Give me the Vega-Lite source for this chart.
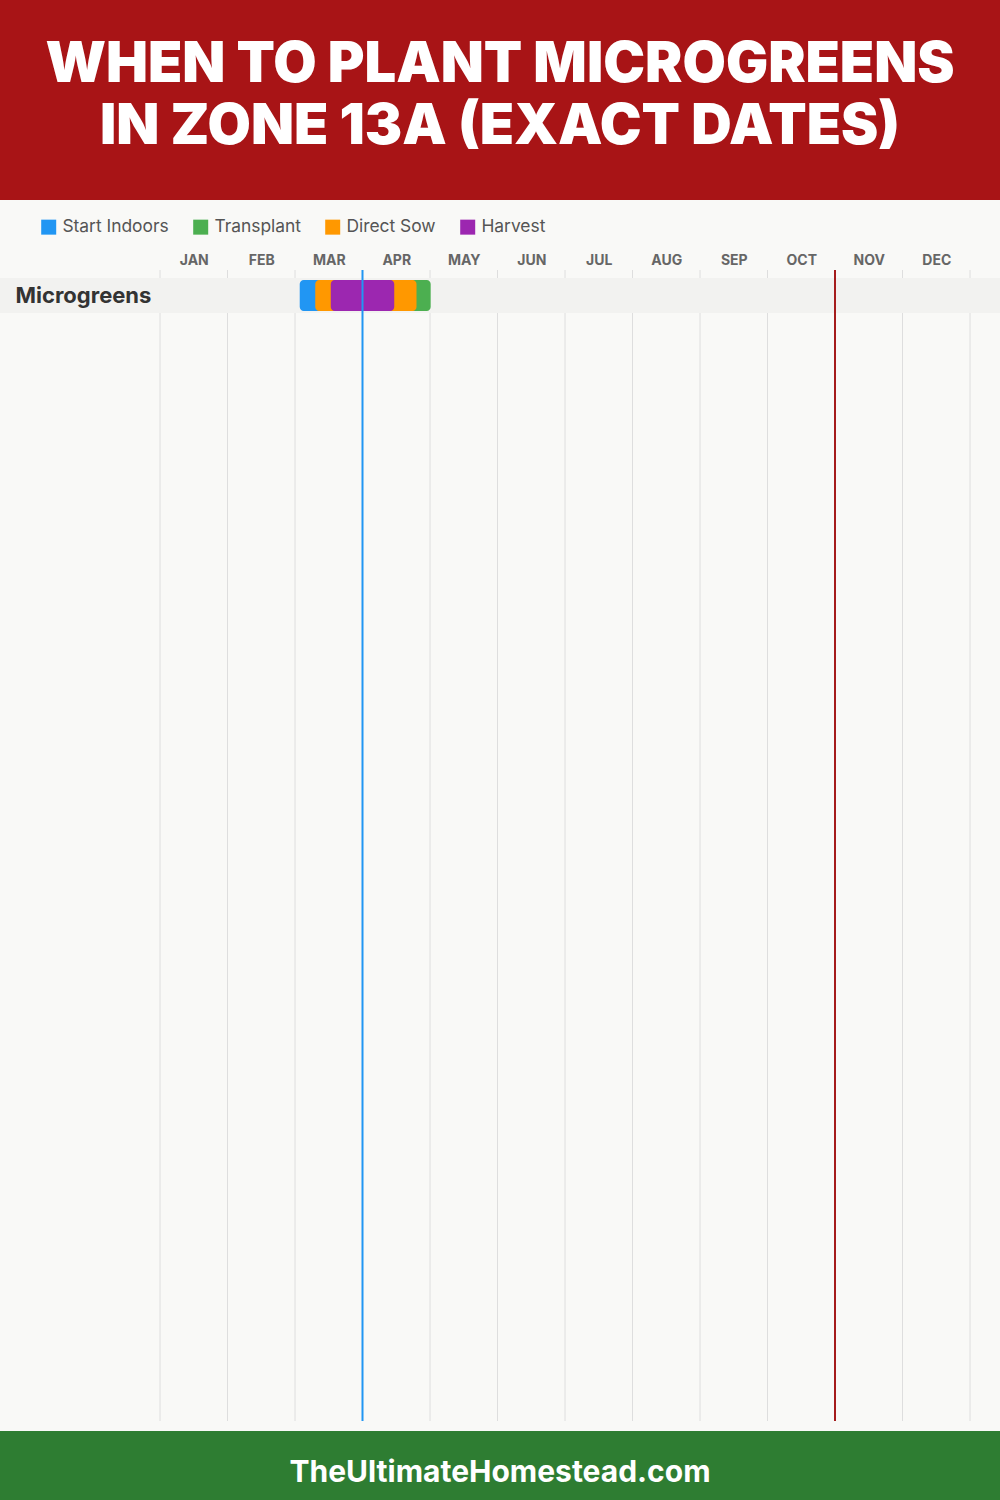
{
  "$schema": "https://vega.github.io/schema/vega-lite/v6.json",
  "background": "#f9f9f7",
  "padding": 0,
  "spacing": 9,
  "config": {"view": {"stroke": null}, "font": "Inter"},
  "datasets": {
    "title": [
      {"line": 1, "text": "WHEN TO PLANT MICROGREENS"},
      {"line": 2, "text": "IN ZONE 13A (EXACT DATES)"}
    ],
    "months": [
      {"boundary": 0}, {"boundary": 1}, {"boundary": 2}, {"boundary": 3}, {"boundary": 4},
      {"boundary": 5}, {"boundary": 6}, {"boundary": 7}, {"boundary": 8}, {"boundary": 9},
      {"boundary": 10}, {"boundary": 11}, {"boundary": 12}
    ],
    "crops": [{"crop": "Microgreens"}],
    "periods": [
      {"crop": "Microgreens", "activity": "Start Indoors", "start": 2.07, "end": 2.55},
      {"crop": "Microgreens", "activity": "Transplant", "start": 3.5, "end": 4.01},
      {"crop": "Microgreens", "activity": "Direct Sow", "start": 2.3, "end": 3.8},
      {"crop": "Microgreens", "activity": "Harvest", "start": 2.53, "end": 3.47}
    ],
    "frost": [
      {"event": "Last Frost", "month": 3.0},
      {"event": "First Frost", "month": 10.0}
    ],
    "site": [{"text": "TheUltimateHomestead.com"}]
  },
  "vconcat": [
    {
      "width": 1000,
      "height": 200,
      "view": {"fill": "#a81416", "stroke": null},
      "data": {"name": "title"},
      "mark": {"type": "text", "color": "white", "fontSize": 56, "fontWeight": 900, "baseline": "alphabetic", "align": "center", "font": "Inter"},
      "encoding": {
        "y": {"field": "line", "type": "ordinal", "axis": null, "scale": {"range": [82, 144], "padding": 0}},
        "text": {"field": "text"}
      }
    },
    {
      "width": 1000,
      "height": 1151,
      "layer": [
        {
          "data": {"name": "months"},
          "mark": {"type": "rule", "color": "#dedede", "strokeWidth": 1},
          "encoding": {"x": {"field": "boundary", "type": "quantitative"}}
        },
        {
          "data": {"name": "crops"},
          "mark": {"type": "bar", "color": "#f2f2f0", "cornerRadius": 0},
          "encoding": {
            "y": {
              "field": "crop", "type": "nominal",
              "scale": {"domain": ["Microgreens"], "range": [8, 43], "paddingInner": 0, "paddingOuter": 0},
              "axis": {"orient": "left", "title": null, "domain": false, "ticks": false, "grid": false, "labelAlign": "left", "labelPadding": -15, "labelFontSize": 22, "labelFontWeight": 700, "labelColor": "#333333", "zindex": 1}
            }
          }
        },
        {
          "data": {"name": "periods"},
          "mark": {"type": "bar", "cornerRadius": 4, "height": {"band": 0.886}},
          "encoding": {
            "y": {"field": "crop", "type": "nominal"},
            "x": {
              "field": "start", "type": "quantitative",
              "scale": {"domain": [-2.3704, 12.4444], "nice": false, "zero": false},
              "axis": {
                "orient": "top", "title": null, "values": [0,1,2,3,4,5,6,7,8,9,10,11,12],
                "domain": false, "ticks": false, "grid": false,
                "labelExpr": "datum.value < 12 ? ['JAN','FEB','MAR','APR','MAY','JUN','JUL','AUG','SEP','OCT','NOV','DEC'][datum.value] : ''",
                "labelOffset": 33.75, "labelPadding": 6, "labelBaseline": "alphabetic", "labelAlign": "center",
                "labelFontSize": 14, "labelFontWeight": 700, "labelColor": "#666666",
                "labelOverlap": false, "labelFlush": false, "labelBound": false
              }
            },
            "x2": {"field": "end"},
            "color": {
              "field": "activity", "type": "nominal",
              "scale": {"domain": ["Start Indoors", "Transplant", "Direct Sow", "Harvest"], "range": ["#2196f3", "#4caf50", "#ff9800", "#9c27b0"]},
              "legend": {
                "title": null, "orient": "none", "legendX": 31, "legendY": -61, "padding": 9,
                "direction": "horizontal", "symbolType": "square", "symbolSize": 225, "symbolStrokeWidth": 0,
                "labelFontSize": 17.4, "labelColor": "#555555", "labelOffset": 5, "columnPadding": 23
              }
            }
          }
        },
        {
          "data": {"name": "frost"},
          "transform": [{"filter": "datum.event === 'Last Frost'"}],
          "mark": {"type": "rule", "color": "#2196f3", "strokeWidth": 2},
          "encoding": {"x": {"field": "month", "type": "quantitative"}}
        },
        {
          "data": {"name": "frost"},
          "transform": [{"filter": "datum.event === 'First Frost'"}],
          "mark": {"type": "rule", "color": "#a51c1c", "strokeWidth": 2},
          "encoding": {"x": {"field": "month", "type": "quantitative"}}
        }
      ]
    },
    {
      "width": 1000,
      "height": 70,
      "view": {"fill": "#2e7d32", "stroke": null},
      "data": {"name": "site"},
      "mark": {"type": "text", "color": "white", "fontSize": 30, "fontWeight": 700, "baseline": "middle", "dy": 7},
      "encoding": {"text": {"field": "text"}}
    }
  ],
  "resolve": {"scale": {"color": "independent"}}
}
